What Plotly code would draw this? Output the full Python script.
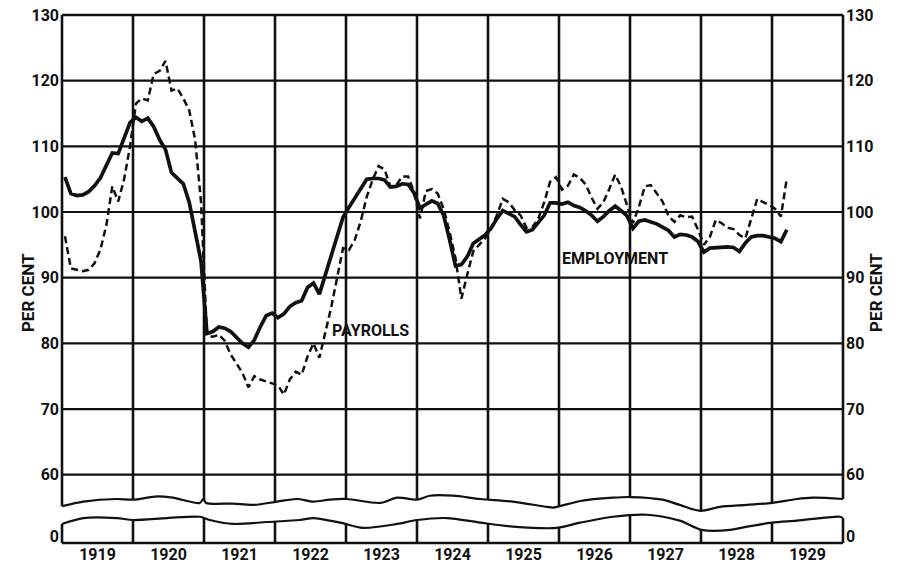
import numpy as np
import plotly.graph_objects as go

# ---- data (monthly, Jan 1919 - Mar 1929) ----
years = list(range(1919, 1930))
year_labels = [str(y) for y in years]

employment = [
    105.3, 102.8, 102.5, 102.6, 103.1, 104.0, 105.2, 107.0, 109.0, 108.9, 111.3, 113.6,  # 1919
    114.4, 113.8, 114.3, 113.0, 111.0, 109.5, 106.0, 105.1, 104.3, 101.5, 96.8, 92.5,    # 1920
    81.5, 81.8, 82.5, 82.3, 81.8, 80.9, 80.0, 79.4, 80.5, 82.5, 84.2, 84.6,              # 1921
    83.9, 84.5, 85.6, 86.2, 86.5, 88.5, 89.2, 87.5, 90.4, 93.5, 96.5, 99.2,              # 1922
    100.7, 102.2, 103.6, 105.0, 105.1, 105.1, 104.9, 103.8, 103.9, 104.3, 104.2, 102.9,  # 1923
    100.6, 101.1, 101.7, 101.3, 99.5, 95.8, 91.8, 92.0, 93.2, 95.2, 95.9, 96.5,          # 1924
    97.5, 99.0, 100.2, 99.8, 99.3, 98.1, 97.0, 97.3, 98.5, 99.5, 101.4, 101.4,           # 1925
    101.2, 101.5, 101.0, 100.7, 100.2, 99.5, 98.6, 99.3, 100.2, 100.9, 100.2, 99.4,      # 1926
    97.5, 98.6, 98.8, 98.5, 98.2, 97.7, 97.2, 96.2, 96.6, 96.5, 96.2, 95.5,              # 1927
    93.9, 94.5, 94.6, 94.7, 94.7, 94.6, 94.0, 95.3, 96.2, 96.4, 96.4, 96.2,              # 1928
    96.0, 95.5, 97.3,                                                                    # 1929
]

payrolls = [
    96.3, 91.4, 91.2, 91.0, 91.2, 92.2, 94.3, 98.0, 103.9, 101.6, 105.0, 110.0,          # 1919
    116.5, 117.3, 117.0, 121.0, 121.5, 123.0, 118.5, 118.8, 117.3, 115.5, 111.0, 101.5,  # 1920
    81.2, 81.0, 81.3, 80.4, 78.3, 76.8, 75.5, 73.3, 75.0, 74.5, 74.2, 73.8,              # 1921
    73.6, 72.2, 74.5, 75.7, 75.2, 78.0, 80.0, 77.8, 81.5, 85.5, 90.0, 94.5,              # 1922
    94.2, 95.8, 98.6, 102.3, 104.9, 107.0, 106.5, 103.9, 104.1, 105.4, 105.4, 103.0,     # 1923
    99.0, 103.2, 103.5, 102.8, 100.5, 97.0, 93.0, 86.8, 90.5, 94.0, 95.0, 96.0,          # 1924
    97.5, 99.5, 102.0, 101.5, 100.3, 99.5, 97.6, 97.7, 99.0, 101.5, 104.6, 105.3,        # 1925
    103.4, 104.0, 105.7, 105.2, 104.2, 102.2, 100.5, 101.5, 103.5, 105.7, 103.8, 101.0,  # 1926
    98.3, 100.8, 103.9, 104.1, 102.9, 101.6, 99.4, 98.5, 99.5, 99.2, 99.3, 97.3,         # 1927
    95.0, 96.2, 98.8, 98.3, 97.6, 97.4, 96.5, 96.0, 99.0, 102.0, 101.5, 101.1,           # 1928
    100.5, 99.3, 105.1,                                                                  # 1929
]

y_ticks = [60, 70, 80, 90, 100, 110, 120, 130]
y_ticktext = [str(v) for v in y_ticks]

# axis break outline (year, percent-scale position) - decorative wavy cut lines
break_upper_x = [1919.00, 1919.30, 1919.77, 1920.00, 1920.34, 1920.56, 1920.94, 1920.99, 1921.03,
                 1921.41, 1921.69, 1922.03, 1922.31, 1922.54, 1922.77, 1923.01, 1923.48, 1923.72,
                 1924.00, 1924.18, 1924.51, 1924.89, 1925.35, 1925.83, 1925.92, 1926.30, 1926.76,
                 1927.00, 1927.46, 1927.70, 1927.99, 1928.27, 1928.65, 1929.00, 1929.35, 1929.58,
                 1930.00]
break_upper_y = [55.2, 55.9, 56.3, 56.2, 56.7, 56.5, 55.7, 56.3, 55.7,
                 55.6, 55.4, 55.9, 56.3, 55.9, 56.2, 56.3, 55.7, 56.5,
                 56.2, 56.8, 56.8, 56.3, 55.9, 55.1, 55.0, 56.0, 56.5,
                 56.6, 56.2, 55.4, 54.5, 55.1, 55.4, 55.7, 56.3, 56.5,
                 56.3]
break_lower_x = [1919.00, 1919.30, 1919.77, 1920.00, 1920.48, 1920.94, 1921.08, 1921.41, 1921.89,
                 1922.35, 1922.54, 1922.92, 1923.24, 1923.72, 1924.00, 1924.42, 1924.89, 1925.35,
                 1925.97, 1926.30, 1926.76, 1927.24, 1927.70, 1928.01, 1928.41, 1928.65, 1929.00,
                 1929.35, 1929.96, 1930.00]
break_lower_y = [52.5, 53.4, 53.4, 53.1, 53.4, 53.6, 53.1, 52.5, 52.8,
                 53.1, 53.4, 52.7, 51.9, 52.5, 53.1, 53.4, 52.7, 52.1,
                 51.9, 52.7, 53.6, 53.9, 53.0, 51.6, 51.6, 52.1, 52.7,
                 53.0, 53.6, 53.4]

Y_MIN, Y_MAX = 49.6, 130.0
X_MIN, X_MAX = 1919, 1930
ZERO_POS = 50.55

months = [1919 + (i + 0.5) / 12 for i in range(len(employment))]

FONT = "Roboto, Liberation Sans, Arial, sans-serif"
INK = "#111111"


def to_paper_y(v):
    return (v - Y_MIN) / (Y_MAX - Y_MIN)


fig = go.Figure()

fig.add_trace(go.Scatter(x=months, y=payrolls, mode="lines",
                         line=dict(color=INK, width=2.5, dash="7px,4px"),
                         hoverinfo="skip", showlegend=False))
fig.add_trace(go.Scatter(x=months, y=employment, mode="lines",
                         line=dict(color=INK, width=3.7),
                         hoverinfo="skip", showlegend=False))
# wavy break lines
fig.add_trace(go.Scatter(x=break_upper_x, y=break_upper_y, mode="lines",
                         line=dict(color=INK, width=2.2, shape="spline", smoothing=0.8),
                         hoverinfo="skip", showlegend=False))
fig.add_trace(go.Scatter(x=break_lower_x, y=break_lower_y, mode="lines",
                         line=dict(color=INK, width=2.2, shape="spline", smoothing=0.8),
                         hoverinfo="skip", showlegend=False))
# carrier for the right-hand axis
fig.add_trace(go.Scatter(x=[months[0]], y=[employment[0]], yaxis="y2", mode="markers",
                         marker=dict(opacity=0), hoverinfo="skip", showlegend=False))

shapes = []
# horizontal grid lines (60..120)
for v in y_ticks[:-1]:
    shapes.append(dict(type="line", xref="x", yref="y", x0=X_MIN, x1=X_MAX, y0=v, y1=v,
                       line=dict(color=INK, width=2.2), layer="below"))
# top and bottom frame (paper coords so they are not clipped)
for py in (0, 1):
    shapes.append(dict(type="line", xref="paper", yref="paper", x0=0, x1=1, y0=py, y1=py,
                       line=dict(color=INK, width=2.4), layer="below"))
# vertical year lines, broken by the axis cut
for yr in years + [1930]:
    up = float(np.interp(yr, break_upper_x, break_upper_y))
    lo = float(np.interp(yr, break_lower_x, break_lower_y))
    px = (yr - X_MIN) / (X_MAX - X_MIN)
    for a, b in ((Y_MAX, up), (lo, Y_MIN)):
        shapes.append(dict(type="line", xref="paper", yref="paper", x0=px, x1=px,
                           y0=to_paper_y(a), y1=to_paper_y(b),
                           line=dict(color=INK, width=2.6), layer="below"))

tickfont = dict(family=FONT, size=16, color=INK, weight="bold")
yaxis_common = dict(range=[Y_MIN, Y_MAX], tickvals=[ZERO_POS] + y_ticks,
                    ticktext=["0"] + y_ticktext, showgrid=False, zeroline=False,
                    showline=False, ticks="", tickfont=tickfont, fixedrange=True,
                    automargin=False, ticklabelstandoff=2, ticklabeloverflow="allow")

label_font = dict(family=FONT, size=16, color=INK, weight="bold")
side_font = dict(family=FONT, size=17, color=INK, weight="bold")

fig.update_layout(
    template="none",
    width=900, height=566,
    margin=dict(l=62, r=57, t=15, b=23, autoexpand=False),
    paper_bgcolor="white", plot_bgcolor="white",
    hovermode=False,
    shapes=shapes,
    xaxis=dict(range=[X_MIN, X_MAX], tickvals=[y + 0.5 for y in years], ticktext=year_labels,
               showgrid=False, zeroline=False, showline=False, ticks="", tickfont=tickfont,
               automargin=False, ticklabelstandoff=0, ticklabeloverflow="allow",
               fixedrange=True),
    yaxis=dict(**yaxis_common, side="left"),
    yaxis2=dict(**yaxis_common, side="right", overlaying="y", anchor="x"),
    annotations=[
        dict(text="PER CENT", xref="paper", yref="paper", x=-0.059, y=0.475, textangle=-90,
             showarrow=False, font=side_font),
        dict(text="PER CENT", xref="paper", yref="paper", x=1.0585, y=0.475, textangle=-90,
             showarrow=False, font=side_font),
        dict(text="PAYROLLS", xref="x", yref="y", x=1923.34, y=81.9, showarrow=False,
             font=label_font),
        dict(text="EMPLOYMENT", xref="x", yref="y", x=1926.79, y=92.9, showarrow=False,
             font=label_font),
    ],
)

# remove the browser's default 8px body margin so the 900x566 figure fills the window exactly
fig.write_html("out.html", config={"displayModeBar": False},
               post_script="document.body.style.margin='0px';")
